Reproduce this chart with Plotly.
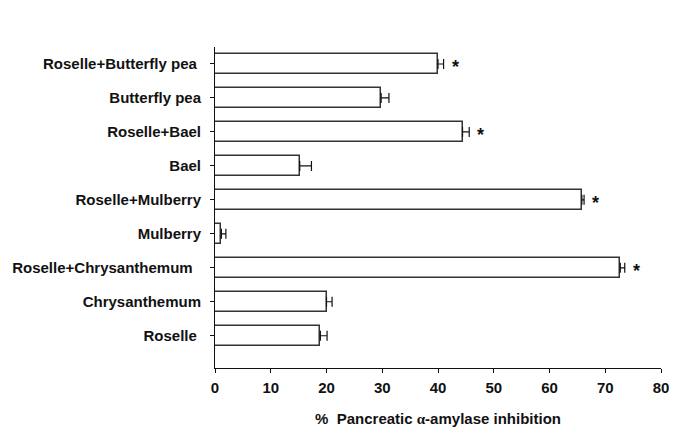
import plotly.graph_objects as go

# ===== Datos (de abajo hacia arriba) =====
CATEGORIES = [
    "Roselle", "Chrysanthemum", "Roselle+Chrysanthemum", "Mulberry",
    "Roselle+Mulberry", "Bael", "Roselle+Bael", "Butterfly pea",
    "Roselle+Butterfly pea",
]
TICK_LABELS = [
    "Roselle\u00a0", "Chrysanthemum", "Roselle+Chrysanthemum\u00a0\u00a0", "Mulberry",
    "Roselle+Mulberry", "Bael", "Roselle+Bael", "Butterfly pea",
    "Roselle+Butterfly pea\u00a0",
]
INHIBITION = [18.9, 20.0, 72.7, 1.15, 65.8, 15.2, 44.4, 29.8, 40.0]
SD = [1.2, 1.0, 0.8, 0.8, 0.4, 2.1, 1.2, 1.4, 1.0]
SIGNIFICANT = [False, False, True, False, True, False, True, False, True]
X_TICKS = [0, 10, 20, 30, 40, 50, 60, 70, 80]

FONT = "Liberation Sans, Arial, sans-serif"
INK = "#111111"
BAR_EDGE = "#333333"

# el body del html tiene 8px de margen -> se compensa en tamaño y márgenes
PAGE_PAD = 8

fig = go.Figure()
fig.add_trace(go.Bar(
    x=INHIBITION, y=CATEGORIES, orientation="h", width=0.59,
    marker=dict(color="white", line=dict(color=BAR_EDGE, width=1.5)),
    error_x=dict(type="data", symmetric=False, array=SD,
                 arrayminus=[0] * len(SD), color=INK, thickness=1.2, width=5),
    hoverinfo="skip",
))

# asteriscos de significancia
for cat, val, sd, sig in zip(CATEGORIES, INHIBITION, SD, SIGNIFICANT):
    if not sig:
        continue
    fig.add_annotation(x=val + sd, y=cat, text="<b>*</b>", showarrow=False,
                       xanchor="left", yanchor="middle", xshift=6, yshift=-3,
                       font=dict(family=FONT, size=18, color=INK))

fig.update_layout(
    width=685 - PAGE_PAD, height=429 - PAGE_PAD, autosize=False,
    margin=dict(l=215 - PAGE_PAD, r=24, t=47 - PAGE_PAD, b=61),
    paper_bgcolor="white", plot_bgcolor="white",
    showlegend=False, bargap=0,
    font=dict(family=FONT, color=INK),
)
alpha = '<span style="font-family:Liberation Serif, serif">α</span>'
fig.update_xaxes(
    range=[0, 80], tickmode="array", tickvals=X_TICKS,
    ticktext=[f"<b>{v}</b>" for v in X_TICKS],
    showgrid=False, zeroline=False, automargin=False,
    showline=True, linecolor=INK, linewidth=1,
    ticks="outside", ticklen=4, tickcolor=INK, ticklabelstandoff=2,
    tickfont=dict(family=FONT, size=15, color=INK),
    title=dict(text=f"<b>%  Pancreatic {alpha}-amylase inhibition</b>", standoff=18,
               font=dict(family=FONT, size=15, color=INK)),
)
fig.update_yaxes(
    type="category", categoryorder="array", categoryarray=CATEGORIES,
    range=[-0.95, 8.5], tickmode="array", tickvals=CATEGORIES,
    ticktext=[f"<b>{t}</b>" for t in TICK_LABELS],
    showgrid=False, zeroline=False, showline=True, linecolor=INK, linewidth=1,
    automargin=False,
    ticks="outside", ticklen=4, tickcolor=INK, ticklabelstandoff=6,
    tickfont=dict(family=FONT, size=15, color=INK),
)

fig.write_html("out.html")
